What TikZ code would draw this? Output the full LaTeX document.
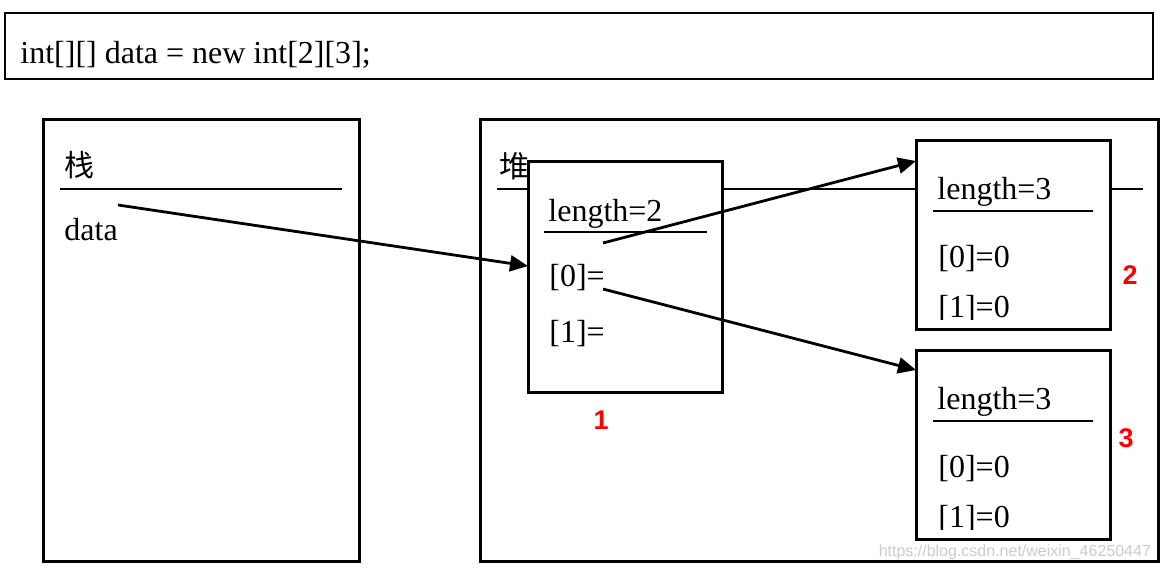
\documentclass[tikz,border=0pt]{standalone}
\usepackage{fontspec}
\setmainfont{Liberation Serif}
\newfontfamily\cjk{Noto Sans CJK SC}
\newfontfamily\numfont{Liberation Sans}
\usetikzlibrary{positioning,arrows.meta}

\tikzset{
  box/.style={draw, line width=1.5pt, fill=white, anchor=north west, inner sep=0pt, outer sep=0pt},
  txt/.style={anchor=base west, inner sep=0pt, font=\fontsize{16}{19}\selectfont},
  hanzi/.style={anchor=base west, inner sep=0pt, font=\cjk\fontsize{15}{18}\selectfont},
  rule/.style={line width=0.7pt},
  arr/.style={line width=1.4pt, -{Triangle[length=9pt,width=8pt]}},
  tag/.style={text=red, font=\numfont\bfseries\fontsize{13.5}{15}\selectfont}
}

\begin{document}
\begin{tikzpicture}[x=0.5pt,y=-0.5pt]
	\useasboundingbox (0,0) rectangle (1165,568);
	
	% 声明语句
	\node[draw, line width=0.6pt, anchor=north west, minimum width=574pt, minimum height=33pt, inner sep=0pt, outer sep=0pt] (code) at (5,13) {};
	\node[txt] (decl) at (20,63) {int[][] data = new int[2][3];};
	
	% 栈内存
	\node[box, minimum width=158pt, minimum height=221pt] (stack) at (43,119) {};
	\node[hanzi] (zhan) at (64,176) {栈};
	\draw[rule] (60,189) -- (342,189);
	\node[txt] (data) at (64,240) {data};
	\coordinate (p0) at (118,205);
	
	% 堆内存（标题线被下面的方框盖住）
	\node[box, minimum width=339pt, minimum height=221pt] (heap) at (480,119) {};
	\node[hanzi] (dui) at (499,177) {堆};
	\draw[rule] (497,189) -- (1143,189);
	
	% 第一维数组
	\node[box, minimum width=97pt, minimum height=115.5pt] (arr1) at (528,161) {};
	\node[txt] (len1) at (548,221) {length=2};
	\draw[rule] (544,232) -- (707,232);
	\node[txt] (zero1) at (549,286) {[0]=};
	\node[txt] (one1) at (549,342) {[1]=};
	\coordinate (s2) at (603,243);
	\coordinate (s3) at (603,289);
	\node[tag] (t1) at (601,420) {1};
	
	% 第二维数组（两个）
	\foreach \i/\y in {2/140, 3/350} {
		\node[box, minimum width=97pt, minimum height=94.75pt] (sub\i) at (916,\y) {};
		\node[txt] (len\i) at (937,\y+59) {length=3};
		\draw[rule] (933,\y+71) -- (1093,\y+71);
		\node[txt] (zero\i) at (938,\y+127) {[0]=0};
		\begin{scope}
			\clip (916,\y) rectangle (1110,\y+179);
			\node[txt] (one\i) at (938,\y+177) {[1]=0};
		\end{scope}
	}
	\node[tag] (t2) at (1130,275) {2};
	\node[tag] (t3) at (1126,438) {3};
	
	% 引用箭头
	\draw[arr] (p0) -- ([yshift=-52.5pt]arr1.north west);
	\draw[arr] (s2) -- ([yshift=-10.5pt]sub2.north west);
	\draw[arr] (s3) -- ([yshift=-10pt]sub3.north west);
	
	% 水印
	\node[anchor=base east, text=gray!40, font=\numfont\fontsize{8}{9}\selectfont] (wm) at (1158,556) {https://blog.csdn.net/weixin\_46250447};
\end{tikzpicture}
\end{document}
